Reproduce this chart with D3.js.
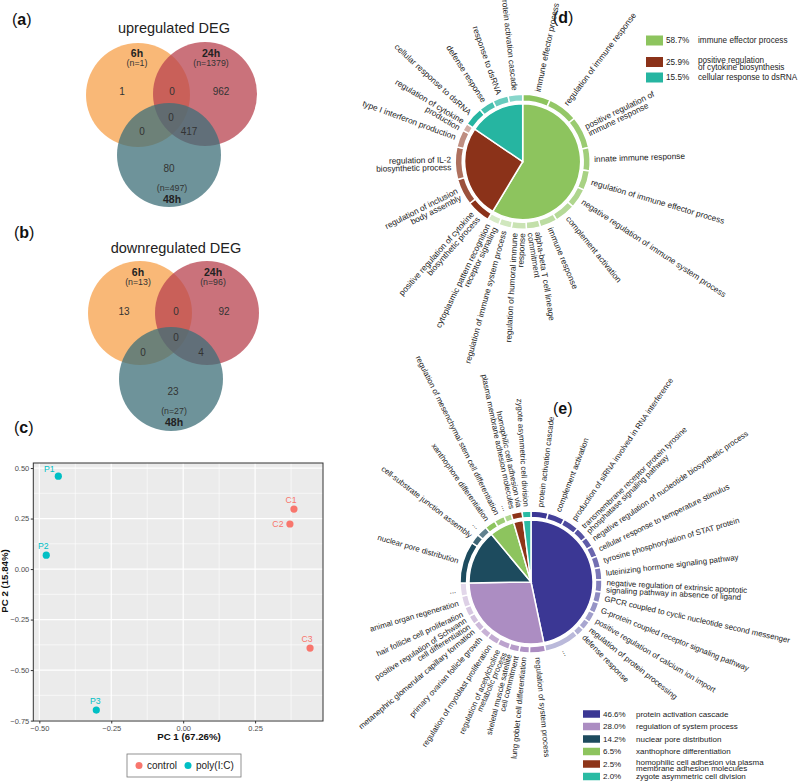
<!DOCTYPE html>
<html>
<head>
<meta charset="utf-8">
<script src="https://cdn.jsdelivr.net/npm/d3@7/dist/d3.min.js"></script>
<style>
body{margin:0;background:#fff}
text{font-family:"Liberation Sans",Arial,Helvetica,sans-serif}
</style>
</head>
<body>
<script>
// ---------- data ----------
// venn: sets, totals and region counts
// regions order: 6h only, 24h only, 48h only, 6h&24h, 6h&48h, 24h&48h, all three
var vennSets = ["6h", "24h", "48h"];
var upTotals = [1, 1379, 497];
var upRegions = [1, 962, 80, 0, 0, 417, 0];
var downTotals = [13, 96, 27];
var downRegions = [13, 92, 23, 0, 0, 4, 0];

// PCA
var pcaSamples = ["P1", "P2", "P3", "C1", "C2", "C3"];
var pcaGroups = ["poly(I:C)", "poly(I:C)", "poly(I:C)", "control", "control", "control"];
var pc1 = [-0.434, -0.476, -0.302, 0.385, 0.371, 0.441];
var pc2 = [0.46, 0.069, -0.698, 0.297, 0.223, -0.391];
var pcXTicks = [-0.5, -0.25, 0, 0.25];
var pcYTicks = [-0.75, -0.5, -0.25, 0, 0.25, 0.5];
var groupNames = ["control", "poly(I:C)"];

// GO pie (d)
var dCats = ["immune effector process", "positive regulation\nof cytokine biosynthesis", "cellular response to dsRNA"];
var dShare = [58.7, 25.9, 15.5];
var dTerms = [
  ["immune effector process", "regulation of immune response", "positive regulation of\nimmune response",
   "innate immune response", "regulation of immune effector process",
   "negative regulation of immune system process", "complement activation", "immune response",
   "alpha-beta T cell lineage\ncommitment", "regulation of humoral immune\nresponse",
   "regulation of immune system process", "cytoplasmic pattern recognition\nreceptor signaling"],
  ["positive regulation of cytokine\nbiosynthetic process", "regulation of inclusion\nbody assembly",
   "regulation of IL-2\nbiosynthetic process", "type I interferon production", "regulation of cytokine\nproduction"],
  ["cellular response to dsRNA", "defense response", "response to dsRNA", "protein activation cascade"]
];
var dTermSize = [
  [24, 26, 28, 20, 17, 17, 18, 15, 12, 13, 11, 10.3],
  [20.7, 23, 28, 15, 6.6],
  [16.4, 13, 13.5, 12.5]
];

// GO pie (e)
var eCats = ["protein activation cascade", "regulation of system process", "nuclear pore distribution",
  "xanthophore differentiation", "homophilic cell adhesion via plasma\nmembrane adhesion molecules",
  "zygote asymmetric cell division"];
var eShare = [46.6, 28.0, 14.2, 6.5, 2.5, 2.0];
var eTerms = [
  ["protein activation cascade", "complement activation", "production of siRNA involved in RNA interference",
   "transmembrane receptor protein tyrosine\nphosphatase signaling pathway",
   "negative regulation of nucleotide biosynthetic process", "cellular response to temperature stimulus",
   "tyrosine phosphorylation of STAT protein", "luteinizing hormone signaling pathway",
   "negative regulation of extrinsic apoptotic\nsignaling pathway in absence of ligand",
   "GPCR coupled to cyclic nucleotide second messenger", "G-protein coupled receptor signaling pathway",
   "positive regulation of calcium ion import", "regulation of protein processing", "defense response", "..."],
  ["regulation of system process", "lung goblet cell differentiation", "skeletal muscle satellite\ncell commitment",
   "regulation of acetylcholine\nmetabolic process", "regulation of myoblast proliferation",
   "primary ovarian follicle growth", "metanephric glomerular capillary formation",
   "positive regulation of Schwann\ncell differentiation", "hair follicle cell proliferation",
   "animal organ regeneration", "..."],
  ["nuclear pore distribution", "cell-substrate junction assembly", "..."],
  ["xanthophore differentiation", "regulation of mesenchymal stem cell differentiation", "..."],
  ["homophilic cell adhesion via\nplasma membrane adhesion molecules"],
  ["zygote asymmetric cell division"]
];
var eTermSize = [
  [14, 14, 13, 10, 8.5, 9, 9.5, 10, 10, 9, 9, 8.5, 7.5, 7, 28.8],
  [13.2, 8.5, 8.5, 10, 9.5, 8, 7.5, 7.5, 8, 9.5, 10.6],
  [34.4, 8, 8.7],
  [8.8, 8.5, 6.1],
  [1],
  [1]
];

// ---------- setup ----------
var width = 798, height = 781;
var svg = d3.select("body").append("svg").attr("width", width).attr("height", height);

function panelLetter(x, y, letter) {
  var t = svg.append("text").attr("x", x).attr("y", y).style("font-size", "16px").attr("fill", "#111");
  t.append("tspan").text("(");
  t.append("tspan").style("font-weight", "bold").text(letter);
  t.append("tspan").text(")");
}

// ---------- venn ----------
var vennColors = ["#F7A04A", "#B8434F", "#3D6F78"];

function drawVenn(cfg, totals, regions) {
  var g = svg.append("g");
  g.append("text").attr("x", cfg.title[0]).attr("y", cfg.title[1]).attr("text-anchor", "middle")
    .style("font-size", "14.5px").attr("fill", "#222").text(cfg.titleText);
  g.selectAll("circle").data(vennSets).join("circle")
    .attr("cx", function(d, i) { return cfg.centers[i][0]; })
    .attr("cy", function(d, i) { return cfg.centers[i][1]; })
    .attr("r", cfg.r)
    .attr("fill", function(d, i) { return vennColors[i]; })
    .attr("fill-opacity", 0.75);
  g.selectAll("text.region").data(regions).join("text").attr("class", "region")
    .attr("x", function(d, i) { return cfg.regionPos[i][0]; })
    .attr("y", function(d, i) { return cfg.regionPos[i][1]; })
    .attr("dy", "0.35em").attr("text-anchor", "middle")
    .style("font-size", "10px").attr("fill", "#333")
    .text(function(d) { return d; });
  vennSets.forEach(function(s, i) {
    var p = cfg.namePos[i];
    var nameY = i < 2 ? p[1] : p[1] + 11;
    var nY = i < 2 ? p[1] + 10 : p[1];
    g.append("text").attr("x", p[0]).attr("y", nameY).attr("dy", "0.35em").attr("text-anchor", "middle")
      .style("font-size", "10.5px").style("font-weight", "bold").attr("fill", "#222").text(s);
    g.append("text").attr("x", p[0]).attr("y", nY).attr("dy", "0.35em").attr("text-anchor", "middle")
      .style("font-size", "8.8px").attr("fill", "#333").text("(n=" + totals[i] + ")");
  });
}

panelLetter(12, 25, "a");
drawVenn({
  titleText: "upregulated DEG", title: [174, 33],
  centers: [[138, 95], [205, 94], [169, 155]], r: 52,
  regionPos: [[122, 91], [221, 91], [169, 168], [172, 91], [142, 131], [189, 131], [171, 117]],
  namePos: [[137, 53], [211, 53], [172, 188]]
}, upTotals, upRegions);

panelLetter(14, 238, "b");
drawVenn({
  titleText: "downregulated DEG", title: [176, 253],
  centers: [[140, 313], [207, 313], [171, 379]], r: 52,
  regionPos: [[124, 311], [224, 311], [173, 391], [176, 311], [143, 352], [201, 352], [176, 337]],
  namePos: [[138, 272], [213, 272], [174, 411]]
}, downTotals, downRegions);

// ---------- PCA ----------
panelLetter(14, 433, "c");
var pcaColor = d3.scaleOrdinal().domain(groupNames).range(["#F8766D", "#00BFC4"]);
var px = d3.scaleLinear().domain([-0.521, 0.486]).range([33.3, 323]);
var py = d3.scaleLinear().domain([-0.752, 0.525]).range([721, 463]);
var pg = svg.append("g");
pg.append("rect").attr("x", px.range()[0]).attr("y", py.range()[1])
  .attr("width", px.range()[1] - px.range()[0]).attr("height", py.range()[0] - py.range()[1])
  .attr("fill", "#EBEBEB");
var xMinor = pcXTicks.map(function(d) { return d - 0.125; }).concat([0.375]);
var yMinor = pcYTicks.slice(1).map(function(d) { return d - 0.125; });
pg.selectAll("line.xminor").data(xMinor).join("line")
  .attr("x1", px).attr("x2", px).attr("y1", py.range()[0]).attr("y2", py.range()[1])
  .attr("stroke", "#fff").attr("stroke-width", 0.6);
pg.selectAll("line.yminor").data(yMinor).join("line")
  .attr("y1", py).attr("y2", py).attr("x1", px.range()[0]).attr("x2", px.range()[1])
  .attr("stroke", "#fff").attr("stroke-width", 0.6);
pg.selectAll("line.xmajor").data(pcXTicks).join("line")
  .attr("x1", px).attr("x2", px).attr("y1", py.range()[0]).attr("y2", py.range()[1])
  .attr("stroke", "#fff").attr("stroke-width", 1.2);
pg.selectAll("line.ymajor").data(pcYTicks).join("line")
  .attr("y1", py).attr("y2", py).attr("x1", px.range()[0]).attr("x2", px.range()[1])
  .attr("stroke", "#fff").attr("stroke-width", 1.2);
pg.append("rect").attr("x", px.range()[0]).attr("y", py.range()[1])
  .attr("width", px.range()[1] - px.range()[0]).attr("height", py.range()[0] - py.range()[1])
  .attr("fill", "none").attr("stroke", "#333").attr("stroke-width", 1);

var xAxis = pg.append("g").attr("transform", "translate(0," + py.range()[0] + ")")
  .call(d3.axisBottom(px).tickValues(pcXTicks).tickFormat(d3.format(".2f")).tickSize(2.5).tickPadding(2));
var yAxis = pg.append("g").attr("transform", "translate(" + px.range()[0] + ",0)")
  .call(d3.axisLeft(py).tickValues(pcYTicks).tickFormat(d3.format(".2f")).tickSize(2.5).tickPadding(1.5));
[xAxis, yAxis].forEach(function(a) {
  a.select(".domain").remove();
  a.selectAll(".tick line").attr("stroke", "#333");
  a.selectAll(".tick text").attr("fill", "#4D4D4D").style("font-size", "7.5px")
    .style("font-family", '"Liberation Sans",Arial,sans-serif');
});

var pcaLabelOffset = [[-9, -7], [-3, -9], [-1, -9], [-3, -9], [-12, 0], [-3, -9]];
pg.selectAll("circle.pt").data(pcaSamples).join("circle")
  .attr("cx", function(d, i) { return px(pc1[i]); })
  .attr("cy", function(d, i) { return py(pc2[i]); })
  .attr("r", 3.6)
  .attr("fill", function(d, i) { return pcaColor(pcaGroups[i]); });
pg.selectAll("text.lab").data(pcaSamples).join("text")
  .attr("x", function(d, i) { return px(pc1[i]) + pcaLabelOffset[i][0]; })
  .attr("y", function(d, i) { return py(pc2[i]) + pcaLabelOffset[i][1]; })
  .attr("dy", "0.35em").attr("text-anchor", "middle")
  .style("font-size", "8.7px")
  .attr("fill", function(d, i) { return pcaColor(pcaGroups[i]); })
  .text(function(d) { return d; });

pg.append("text").attr("x", 189).attr("y", 737).attr("dy", "0.35em").attr("text-anchor", "middle")
  .style("font-size", "9.7px").style("font-weight", "bold").attr("fill", "#111").text("PC 1 (67.26%)");
pg.append("text").attr("transform", "translate(5,581) rotate(-90)").attr("dy", "0.35em").attr("text-anchor", "middle")
  .style("font-size", "9.7px").style("font-weight", "bold").attr("fill", "#111").text("PC 2 (15.84%)");

var lg = pg.append("g");
lg.append("rect").attr("x", 127).attr("y", 754).attr("width", 114).attr("height", 23)
  .attr("fill", "#fff").attr("stroke", "#777").attr("stroke-width", 0.8);
var legX = [139, 188];
groupNames.forEach(function(gn, i) {
  lg.append("circle").attr("cx", legX[i]).attr("cy", 765.5).attr("r", 3.5).attr("fill", pcaColor(gn));
  lg.append("text").attr("x", legX[i] + 8).attr("y", 765.5).attr("dy", "0.35em")
    .style("font-size", "10px").attr("fill", "#222").text(gn);
});

// ---------- GO pies ----------
function drawGoPie(cfg) {
  var g = svg.append("g").attr("transform", "translate(" + cfg.cx + "," + cfg.cy + ")");
  var pie = d3.pie().sort(null).value(function(d) { return d.value; });
  var cats = cfg.cats.map(function(c, i) { return { name: c, value: cfg.share[i], color: cfg.colors[i] }; });
  var terms = [];
  cfg.terms.forEach(function(list, i) {
    var tot = d3.sum(cfg.sizes[i]), n = list.length;
    var maxT = Math.min(0.65, 0.15 * (n - 1));
    list.forEach(function(t, j) {
      terms.push({
        name: t,
        value: cfg.share[i] * cfg.sizes[i][j] / tot,
        color: d3.interpolateRgb(cfg.colors[i], "#fff")(n > 1 ? maxT * j / (n - 1) : 0)
      });
    });
  });
  var arcIn = d3.arc().innerRadius(0).outerRadius(cfg.r0);
  var arcRing = d3.arc().innerRadius(cfg.r1).outerRadius(cfg.r2);
  g.selectAll("path.slice").data(pie(cats)).join("path")
    .attr("d", arcIn).attr("fill", function(d) { return d.data.color; })
    .attr("stroke", "#fff").attr("stroke-width", 1.5);
  var termArcs = pie(terms);
  g.selectAll("path.ring").data(termArcs).join("path")
    .attr("d", arcRing).attr("fill", function(d) { return d.data.color; })
    .attr("stroke", "#fff").attr("stroke-width", 1.5);

  termArcs.forEach(function(a) {
    var mid = (a.startAngle + a.endAngle) / 2 * 180 / Math.PI;
    var right = mid < 180;
    var lines = a.data.name.split("\n");
    var t = g.append("text")
      .attr("transform", "rotate(" + (right ? mid - 90 : mid - 270) + ")")
      .attr("text-anchor", right ? "start" : "end")
      .style("font-size", cfg.fs + "px").attr("fill", "#222");
    lines.forEach(function(l, k) {
      t.append("tspan").attr("x", right ? cfg.rl : -cfg.rl)
        .attr("y", (k - (lines.length - 1) / 2) * cfg.lh).attr("dy", "0.35em").text(l);
    });
  });

  // legend
  var leg = svg.append("g");
  cats.forEach(function(c, i) {
    var y0 = cfg.legRows[i];
    leg.append("rect").attr("x", cfg.legX).attr("y", y0 - cfg.legH / 2).attr("width", 17).attr("height", cfg.legH)
      .attr("fill", c.color);
    leg.append("text").attr("x", cfg.legX + 20).attr("y", y0).attr("dy", "0.35em")
      .style("font-size", cfg.legFs + "px").attr("fill", "#222").text(c.value.toFixed(1) + "%");
    var lines = c.name.split("\n");
    var t = leg.append("text").style("font-size", cfg.legFs + "px").attr("fill", "#222");
    lines.forEach(function(l, k) {
      t.append("tspan").attr("x", cfg.legX + cfg.legLabelDx).attr("y", y0 + k * cfg.legLh - (lines.length - 1) * 1.5)
        .attr("dy", "0.35em").text(l);
    });
  });
}

panelLetter(553, 23, "d");
drawGoPie({
  cx: 522.7, cy: 161.7, r0: 58, r1: 60.5, r2: 67.5, rl: 71.5, fs: 8.3, lh: 7.7,
  cats: dCats, share: dShare, terms: dTerms, sizes: dTermSize,
  colors: ["#8DC45E", "#8B3219", "#26B5A1"],
  legX: 646, legRows: [40.5, 62, 77.5], legH: 10, legFs: 8.2, legLh: 7, legLabelDx: 52
});

panelLetter(553, 414, "e");
drawGoPie({
  cx: 531, cy: 582, r0: 62, r1: 64.5, r2: 71, rl: 75.5, fs: 7.9, lh: 7.3,
  cats: eCats, share: eShare, terms: eTerms, sizes: eTermSize,
  colors: ["#3B3794", "#AC8DC2", "#1D4B5E", "#8DC45E", "#8E3519", "#2ABBA3"],
  legX: 583, legRows: [714, 726.5, 739, 751.5, 764, 776.5], legH: 7.5, legFs: 8, legLh: 5.5, legLabelDx: 53
});
</script>
</body>
</html>
